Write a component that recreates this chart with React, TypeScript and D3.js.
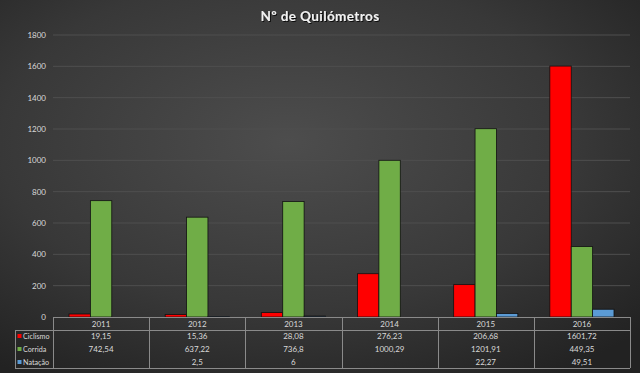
import React from "react";
import * as d3 from "d3";

const years = ["2011", "2012", "2013", "2014", "2015", "2016"];
const seriesNames = ["Ciclismo", "Corrida", "Natação"];
const ciclismo: (number | null)[] = [19.15, 15.36, 28.08, 276.23, 206.68, 1601.72];
const corrida: (number | null)[] = [742.54, 637.22, 736.8, 1000.29, 1201.91, 449.35];
const natacao: (number | null)[] = [null, 2.5, 6, null, 22.27, 49.51];
const colors = ["#ff0000", "#70ad47", "#5b9bd5"];
const yTicks = [0, 200, 400, 600, 800, 1000, 1200, 1400, 1600, 1800];

const W = 640, H = 373;
const left = 53, right = 630, top = 35, bottom = 317;

export default function App() {
  const values = [ciclismo, corrida, natacao];
  const x0 = d3.scaleBand<string>().domain(years).range([left, right]).padding(0);
  const bw = x0.bandwidth();
  const x1 = d3.scaleBand<string>().domain(seriesNames).range([16, bw - 16]).padding(0);
  const y = d3.scaleLinear().domain([0, 1800]).range([bottom, top]);
  const fmt = (v: number | null) => (v == null ? "" : String(v).replace(".", ","));
  const font = "Lato, 'Open Sans', sans-serif";
  const tableTop = 317, headerBottom = 330, tableBottom = 368, legendLeft = 15;
  const rowY = [336, 349, 362];

  return (
    <svg width={W} height={H} style={{ position: "absolute", left: 0, top: 0, display: "block" }}>
      <defs>
        <radialGradient id="bg" cx="0.45" cy="0.38" r="0.75">
          <stop offset="0" stopColor="#4d4d4d" />
          <stop offset="0.6" stopColor="#383838" />
          <stop offset="1" stopColor="#222222" />
        </radialGradient>
        <filter id="sh" x="-10%" y="-10%" width="120%" height="140%">
          <feDropShadow dx="1" dy="1" stdDeviation="0.6" floodColor="#000" floodOpacity="0.8" />
        </filter>
      </defs>
      <rect x={0} y={0} width={W} height={H} fill="url(#bg)" />
      <text x={320} y={21} textAnchor="middle" fill="#f2f2f2" fontFamily={font} fontWeight="bold" fontSize={13.5} letterSpacing={0.4} filter="url(#sh)">
        Nº de Quilómetros
      </text>
      {yTicks.map((t) => (
        <g key={t}>
          {t > 0 && <line x1={left} x2={right} y1={y(t)} y2={y(t)} stroke="#4f4f4f" strokeWidth={1} />}
          <text x={46} y={y(t) + 3} textAnchor="end" fill="#d9d9d9" fontFamily={font} fontSize={8}>
            {t}
          </text>
        </g>
      ))}
      {years.map((yr, i) => (
        <g key={yr} transform={`translate(${x0(yr)},0)`}>
          {seriesNames.map((s, j) => {
            const v = values[j][i];
            if (v == null) return null;
            return (
              <rect
                key={s}
                x={x1(s)}
                y={y(v)}
                width={x1.bandwidth()}
                height={bottom - y(v)}
                fill={colors[j]}
                stroke="#111"
                strokeWidth={0.8}
              />
            );
          })}
        </g>
      ))}
      <g stroke="#8a8a8a" strokeWidth={1} fill="none">
        <line x1={left} x2={right} y1={tableTop + 0.5} y2={tableTop + 0.5} />
        <line x1={legendLeft} x2={right} y1={headerBottom + 0.5} y2={headerBottom + 0.5} />
        <line x1={legendLeft} x2={right} y1={tableBottom + 0.5} y2={tableBottom + 0.5} />
        <line x1={legendLeft + 0.5} x2={legendLeft + 0.5} y1={headerBottom} y2={tableBottom} />
        {years.map((yr) => (
          <line key={yr} x1={Math.round(x0(yr)!) + 0.5} x2={Math.round(x0(yr)!) + 0.5} y1={tableTop} y2={tableBottom} />
        ))}
        <line x1={right + 0.5} x2={right + 0.5} y1={tableTop} y2={tableBottom} />
      </g>
      {years.map((yr, i) => (
        <g key={yr}>
          <text x={x0(yr)! + bw / 2} y={326.5} textAnchor="middle" fill="#d9d9d9" fontFamily={font} fontSize={8}>
            {yr}
          </text>
          {values.map((arr, j) => (
            <text key={j} x={x0(yr)! + bw / 2} y={rowY[j] + 3} textAnchor="middle" fill="#d9d9d9" fontFamily={font} fontSize={8}>
              {fmt(arr[i])}
            </text>
          ))}
        </g>
      ))}
      {seriesNames.map((s, j) => (
        <g key={s}>
          <rect x={17.5} y={rowY[j] - 2} width={4} height={4} fill={colors[j]} />
          <text x={23} y={rowY[j] + 3} fill="#d9d9d9" fontFamily={font} fontSize={7.2}>
            {s}
          </text>
        </g>
      ))}
    </svg>
  );
}
